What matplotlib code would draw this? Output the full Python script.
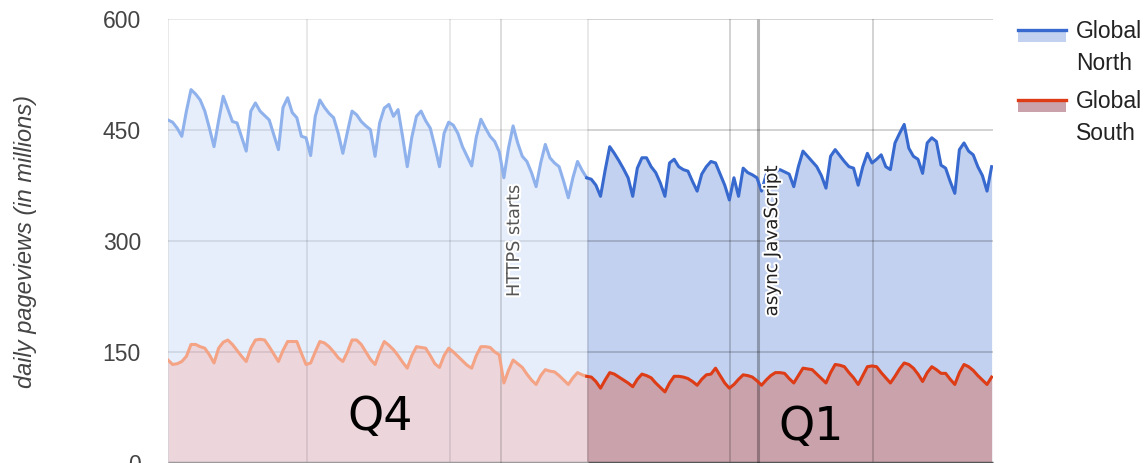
import numpy as np
import matplotlib.pyplot as plt
import matplotlib.patheffects as pe
from matplotlib.lines import Line2D
from matplotlib.patches import Rectangle

# daily pageviews in millions, Oct -> Mar, one value per day
north = [463, 460, 452, 441, 475, 504, 498, 490, 475, 452, 427, 462, 495, 478, 461, 459, 440, 421, 475, 486,
         475, 469, 463, 443, 423, 480, 493, 473, 466,
         441, 439, 415, 468, 490, 480, 472, 466, 445, 418, 447, 475, 470, 461, 455, 450, 414, 459, 479, 484,
         468, 477, 440, 400, 440, 468, 475, 462, 452, 427,
         400, 445, 460, 456, 445, 427, 414, 401, 440, 464, 452, 441, 434, 420, 385, 425, 455, 432, 414, 407,
         392, 373, 405, 430, 412, 405, 400, 380, 358, 385, 407, 395, 385,
         383, 375, 360, 395, 427, 418, 408, 397, 385, 360, 398, 412, 412, 400, 392, 378, 360, 405, 410, 400,
         396, 394, 380, 367, 390, 400, 407,
         405, 390, 375, 355, 385, 360, 398, 392, 389, 385, 367, 389, 392, 394, 396, 393, 390, 373, 400, 421,
         414, 407, 400, 388, 371, 414, 423, 415, 407, 400,
         398, 375, 400, 418, 405, 410, 416, 400, 396, 432, 445, 457, 425, 414, 410, 391, 432, 439, 434, 402,
         398, 380, 364, 423, 432, 421, 416, 400, 388, 367, 400]

south = [139, 133, 134, 137, 144, 160, 160, 157, 155, 146, 135, 155, 163, 166, 160, 152, 144, 137, 155, 166,
         167, 166, 157, 147, 137, 152, 164, 164, 164, 148, 133,
         135, 150, 164, 162, 157, 150, 142, 137, 150, 166, 166, 160, 150, 140, 133, 150, 164, 159, 153, 145,
         136, 128, 145, 157, 156, 155, 145, 134,
         129, 145, 155, 150, 144, 138, 132, 128, 145, 157, 157, 156, 150, 146, 108, 125, 139, 134, 129, 120,
         112, 106, 118, 126, 124, 123, 118, 112, 106, 115, 122, 119, 117,
         116, 110, 101, 112, 122, 120, 116, 112, 108, 103, 113, 120, 118, 115, 108, 102, 96, 108, 117, 117,
         116, 114, 110, 105, 113, 119, 120,
         128, 118, 108, 101, 106, 113, 119, 118, 116, 111, 105, 112, 118, 122, 122, 121, 114, 108, 118, 128,
         127, 126, 120, 114, 108, 122, 133, 132, 130, 122,
         115, 106, 118, 130, 131, 130, 122, 115, 108, 117, 127, 135, 133, 128, 120, 110, 122, 130, 126, 121,
         121, 113, 106, 122, 133, 130, 125, 118, 112, 106, 116]

q1_start = 91                     # first day of Q1
grid_days = [30.2, 61.3, 91.3, 122.2, 153.3]
events = ["HTTPS starts", "async JavaScript"]
event_days = [72.3, 128.3]
y_ticks = [0, 150, 300, 450, 600]
series_names = ["Global\nNorth", "Global\nSouth"]

days = np.arange(len(north))
north = np.array(north)
south = np.array(south)
q4 = days <= q1_start
q1 = days >= q1_start
x_end = 179.3

# colours: (line, fill) for Q4 (faded) and Q1 (strong)
north_q4 = ("#8fb1ec", "#e6eefc")
north_q1 = ("#3769cf", "#c2d1ef")
south_q4 = ("#f4a385", "#ecd6dc")
south_q1 = ("#dd3c16", "#c9a2ab")

fig = plt.figure(figsize=(11.45, 4.63), dpi=100)
ax = fig.add_axes([168 / 1145, 0.0, 825 / 1145, 1 - 18.5 / 463])

# stacked-looking areas: north drawn first, south on top
ax.fill_between(days[q4], 0, north[q4], color=north_q4[1], lw=0, zorder=1)
ax.fill_between(days[q1], 0, north[q1], color=north_q1[1], lw=0, zorder=1)
ax.fill_between(days[q4], 0, south[q4], color=south_q4[1], lw=0, zorder=1.1)
ax.fill_between(days[q1], 0, south[q1], color=south_q1[1], lw=0, zorder=1.1)

# gridlines, a touch darker over Q1
split = grid_days[2]
for y in y_ticks[1:]:
    ax.hlines(y, 0, split, color="black", alpha=0.10, lw=1.2, zorder=2)
    ax.hlines(y, split, x_end, color="black", alpha=0.20, lw=1.2, zorder=2)
for d in [0] + grid_days:
    a = 0.10 if d <= split else 0.20
    ax.vlines(d, 0, 600, color="black", alpha=a, lw=1.2, zorder=2)
ax.hlines(0, 0, split, color="#9a9a9a", lw=2.5, zorder=2, clip_on=False)
ax.hlines(0, split, x_end, color="#555555", lw=2.5, zorder=2, clip_on=False)

# annotation markers
ax.vlines(event_days[0], 0, 600, color="black", alpha=0.15, lw=1.3, zorder=2.5)
ax.vlines(event_days[1], 0, 600, color="black", alpha=0.28, lw=2.2, zorder=2.5)
halo = [pe.withStroke(linewidth=3, foreground="white")]
ax.text(event_days[0] + 2.9, 300, events[0], rotation=90, ha="center", va="center",
        fontsize=12.7, color="#555555", family="DejaVu Sans", path_effects=halo, zorder=4)
ax.text(event_days[1] + 3.0, 300, events[1], rotation=90, ha="center", va="center",
        fontsize=13.2, color="#222222", family="DejaVu Sans", path_effects=halo, zorder=4)

# series lines
ax.plot(days[q4], north[q4], color=north_q4[0], lw=2.2, zorder=3, solid_joinstyle="round")
ax.plot(days[q1], north[q1], color=north_q1[0], lw=2.2, zorder=3, solid_joinstyle="round")
ax.plot(days[q4], south[q4], color=south_q4[0], lw=2.2, zorder=3, solid_joinstyle="round")
ax.plot(days[q1], south[q1], color=south_q1[0], lw=2.2, zorder=3, solid_joinstyle="round")

# quarter labels
ax.text(46.1, 45, "Q4", ha="center", va="baseline", fontsize=33, family="DejaVu Sans", color="black", zorder=4)
ax.text(139.8, 31, "Q1", ha="center", va="baseline", fontsize=33, family="DejaVu Sans", color="black", zorder=4)

ax.set_xlim(0, x_end)
ax.set_ylim(0, 600)
ax.set_xticks([])
ax.set_yticks(y_ticks)
ax.set_yticklabels([str(t) for t in y_ticks], family="Liberation Sans", fontsize=16.5, color="#444444")
ax.tick_params(axis="y", length=0, pad=19.5)
for s in ax.spines.values():
    s.set_visible(False)

fig.text(26 / 1145, 1 - 241 / 463, "daily pageviews (in millions)", rotation=90, ha="center", va="center",
         family="Liberation Sans", style="italic", fontsize=17, color="#444444")

# legend built by hand: line over a pale swatch, two-line labels
legend_rows = [(30, north_q1), (100, south_q1)]
for (ly, cols), name in zip(legend_rows, series_names):
    y0 = 1 - (ly + 12) / 463
    fig.add_artist(Rectangle((1018 / 1145, y0), 48 / 1145, 12 / 463, transform=fig.transFigure,
                             color=cols[1], lw=0))
    fig.add_artist(Line2D([1018 / 1145, 1066 / 1145], [1 - ly / 463] * 2, transform=fig.transFigure,
                          color=cols[0], lw=2.4))
    top, bottom = name.split("\n")
    fig.text(1076 / 1145, 1 - (ly + 8.5) / 463, top, ha="left", va="baseline",
             family="Liberation Sans", fontsize=16.5, color="#222222")
    fig.text(1076 / 1145, 1 - (ly + 39.5) / 463, bottom, ha="left", va="baseline",
             family="Liberation Sans", fontsize=16.5, color="#222222")

fig.savefig("out.png", dpi=100)
